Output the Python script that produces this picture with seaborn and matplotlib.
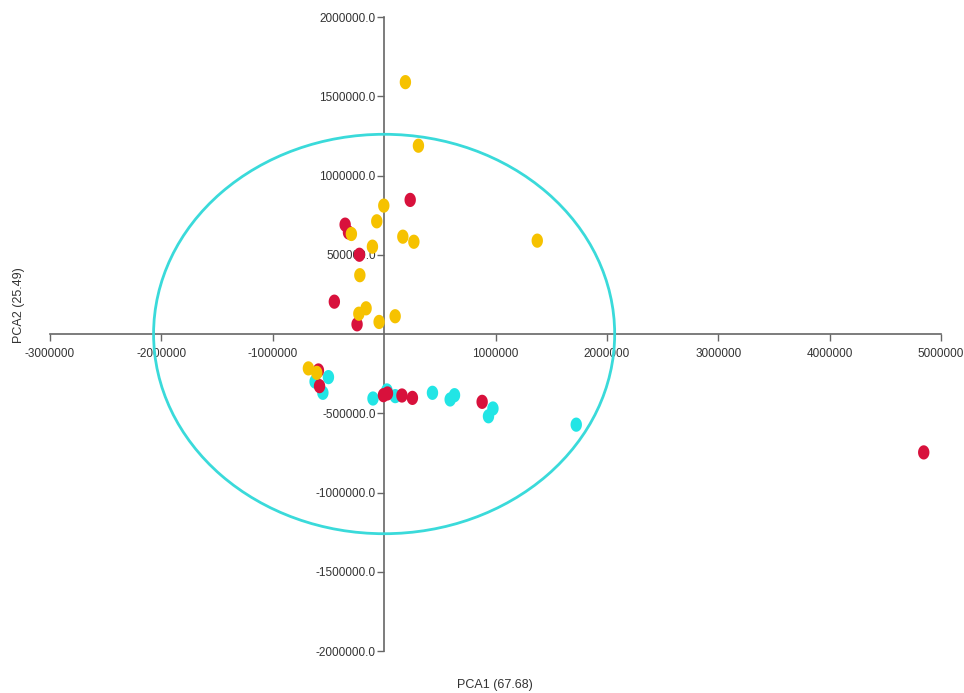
import numpy as np
import pandas as pd
import matplotlib
matplotlib.use("Agg")
import matplotlib.pyplot as plt
from matplotlib.patches import Ellipse
import seaborn as sns

# PCA scores (x = PCA1, y = PCA2) for the three sample groups
cyan_pc1 = [-500000, -550000, -620000, -100000, 25000, 100000, 434000, 593000, 632000, 977000, 937000, 1725000]
cyan_pc2 = [-272000, -371000, -300000, -407000, -356000, -392000, -371000, -413000, -386000, -470000, -519000, -572000]

red_pc1 = [234000, -350000, -320000, -222000, -447000, -243000, -590000, -580000, -6000, 30000, 160000, 254000, 880000, 4845000]
red_pc2 = [846000, 690000, 641000, 500000, 204000, 61000, -230000, -329000, -386000, -375000, -388000, -403000, -428000, -747000]

yellow_pc1 = [191000, 308000, -3000, -66000, -294000, 168000, 267000, -105000, -218000, -162000, -227000, -45000, 99000, 1375000, -680000, -605000]
yellow_pc2 = [1589000, 1188000, 810000, 711000, 631000, 614000, 582000, 551000, 371000, 162000, 128000, 76000, 112000, 589000, -217000, -245000]

groups = ["C", "R", "Y"]
group_colors = {"C": "#22E5E5", "R": "#D8113C", "Y": "#F6C200"}

# confidence ellipse (centre, full width, full height)
ellipse_center = (0, 0)
ellipse_width = 4140000
ellipse_height = 2520000

xticks = [-3000000, -2000000, -1000000, 1000000, 2000000, 3000000, 4000000, 5000000]
yticks = [-2000000, -1500000, -1000000, -500000, 500000, 1000000, 1500000, 2000000]

df = pd.DataFrame({
    "PCA1": cyan_pc1 + red_pc1 + yellow_pc1,
    "PCA2": cyan_pc2 + red_pc2 + yellow_pc2,
    "group": ["C"] * len(cyan_pc1) + ["R"] * len(red_pc1) + ["Y"] * len(yellow_pc1),
})

sns.set_theme(style="white")
plt.rcParams["font.family"] = ["Liberation Sans Narrow", "Liberation Sans", "DejaVu Sans"]

fig = plt.figure(figsize=(9.64, 6.93), dpi=100)
ax = fig.add_axes([50 / 964, 1 - 651 / 693, 891 / 964, 634 / 693])

# slightly tall elliptical marker
t = np.linspace(0, 2 * np.pi, 60)
oval = np.column_stack([0.8 * np.cos(t), np.sin(t)])

sns.scatterplot(data=df, x="PCA1", y="PCA2", hue="group", hue_order=groups,
                palette=group_colors, marker=oval, s=105, linewidth=0,
                legend=False, ax=ax, zorder=4)

ax.add_patch(Ellipse(ellipse_center, ellipse_width, ellipse_height, fill=False,
                     edgecolor="#3ADADA", linewidth=2, zorder=5))

ax.set_xlim(-3000000, 5000000)
ax.set_ylim(-2000000, 2000000)

for side in ("top", "right"):
    ax.spines[side].set_visible(False)
for side in ("left", "bottom"):
    ax.spines[side].set_position(("data", 0))
    ax.spines[side].set_color("#666666")
    ax.spines[side].set_linewidth(1.2)
    ax.spines[side].set_zorder(3)

ax.set_xticks(xticks)
ax.set_xticklabels([f"{v:d}" for v in xticks])
ax.set_yticks(yticks)
ax.set_yticklabels([f"{v:.1f}" for v in yticks])
ax.tick_params(axis="both", direction="out", length=5, width=1, color="#666666",
               labelsize=8.5, labelcolor="#333333")
ax.tick_params(axis="x", pad=5, bottom=True)
ax.tick_params(axis="y", pad=1, left=True)
ax.set_xlabel("")
ax.set_ylabel("")
ax.grid(False)

fig.text(495 / 964, 1 - 685 / 693, "PCA1 (67.68)", ha="center", va="center",
         fontsize=9, color="#333333")
fig.text(19 / 964, 1 - 305 / 693, "PCA2 (25.49)", ha="center", va="center",
         rotation=90, fontsize=9, color="#333333")

fig.savefig("out.png", dpi=100)
